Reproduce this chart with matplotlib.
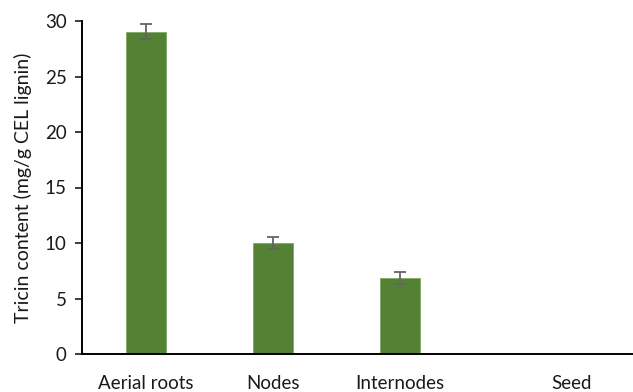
import matplotlib
matplotlib.use("Agg")
import matplotlib.pyplot as plt
from matplotlib.transforms import ScaledTranslation
import numpy as np

categories = ["Aerial roots", "Nodes", "Internodes", "Seed"]
tricin = [29.05, 10.0, 6.85, 0.0]
tricin_err = [0.7, 0.5, 0.5, 0.0]
yticks = [0, 5, 10, 15, 20, 25, 30]

plt.rcParams["font.family"] = ["Lato", "DejaVu Sans"]

fig = plt.figure(figsize=(6.33, 3.92), dpi=100)
ax = fig.add_axes([82 / 633, 38 / 392, 1 - 82 / 633, 333 / 392])

x = np.arange(len(categories))
ax.bar(x, tricin, width=0.315, color="#548235", edgecolor="#7fa866", linewidth=0.6,
       zorder=2)
ax.errorbar(x[:3], tricin[:3], yerr=tricin_err[:3], fmt="none", ecolor="#636363",
            elinewidth=1.3, capsize=4.5, capthick=1.3, zorder=3)

ax.set_xlim(-0.504, 3.835)
ax.set_ylim(0, 30)
ax.set_yticks(yticks)
ax.set_xticks(x)
ax.set_xticklabels(categories, fontsize=13.5, color="#1a1a1a")
ax.tick_params(axis="x", length=0, pad=15)
ax.tick_params(axis="y", length=5, width=1.2, labelsize=13.5, pad=6, colors="#1a1a1a")

# shift the last category label to the right
last = ax.get_xticklabels()[-1]
last.set_transform(last.get_transform() + ScaledTranslation(0.45, 0, fig.dpi_scale_trans))

for side in ("top", "right"):
    ax.spines[side].set_visible(False)
ax.spines["left"].set_linewidth(1.4)
ax.spines["bottom"].set_linewidth(1.4)

ax.set_ylabel("Tricin content (mg/g CEL lignin)", fontsize=14, color="#1a1a1a",
              labelpad=9)

fig.savefig("out.png", dpi=100)
